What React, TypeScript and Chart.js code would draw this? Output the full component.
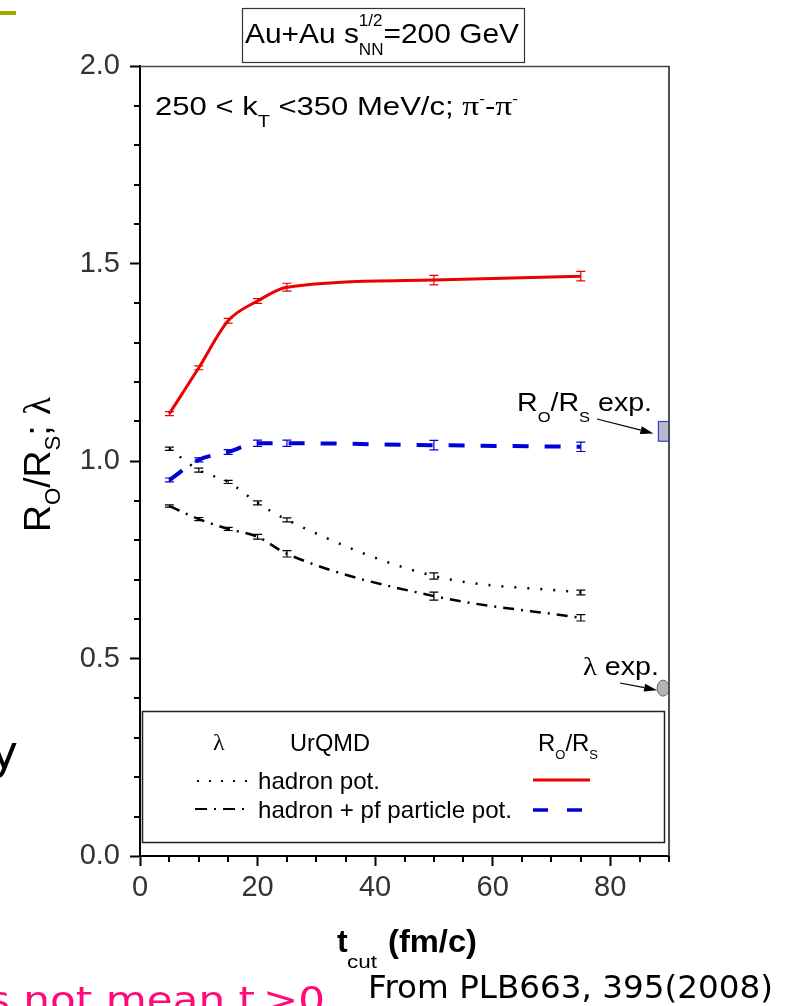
import React, { useEffect, useRef } from 'react';
import { Chart, registerables } from 'chart.js';

Chart.register(...registerables);

// ---------- data ----------
const T_CUT = [5, 10, 15, 20, 25, 50, 75];

const RATIO_HADRON = [1.12, 1.236, 1.355, 1.405, 1.44, 1.458, 1.468];
const RATIO_HADRON_ERR = [0.005, 0.005, 0.006, 0.006, 0.01, 0.012, 0.012];

const RATIO_PF = [0.952, 1.003, 1.023, 1.045, 1.045, 1.04, 1.036];
const RATIO_PF_ERR = [0.005, 0.005, 0.006, 0.008, 0.008, 0.012, 0.012];

const LAMBDA_HADRON = [1.031, 0.977, 0.947, 0.894, 0.851, 0.709, 0.667];
const LAMBDA_HADRON_ERR = [0.004, 0.005, 0.004, 0.005, 0.005, 0.008, 0.006];

const LAMBDA_PF = [0.886, 0.853, 0.828, 0.808, 0.765, 0.658, 0.603];
const LAMBDA_PF_ERR = [0.003, 0.004, 0.004, 0.006, 0.008, 0.01, 0.008];

const RS_EXP_Y = [1.05, 1.1];
const RS_EXP_X = [88.2, 90];
const LAMBDA_EXP_Y = 0.425;
const LAMBDA_EXP_X = 89;

const X_TICKS = [0, 20, 40, 60, 80];
const Y_TICKS = [0, 0.5, 1.0, 1.5, 2.0];

const SANS = '"Liberation Sans", Arial, sans-serif';
const SERIF = '"Liberation Serif", "Times New Roman", serif';
const DEJA = '"DejaVu Sans", Verdana, sans-serif';

const RED = 'rgb(236,0,0)';
const BLUE = 'rgb(0,0,215)';

type Seg = { t: string; f: string; dy?: number; stay?: boolean };

function layoutSegs(ctx: CanvasRenderingContext2D, segs: Seg[]) {
  let cur = 0;
  let hold = 0;
  const pos: number[] = [];
  for (const s of segs) {
    ctx.font = s.f;
    const w = ctx.measureText(s.t).width;
    pos.push(cur);
    if (s.stay) hold = Math.max(hold, w);
    else {
      cur += Math.max(hold, w);
      hold = 0;
    }
  }
  return { pos, total: cur + hold };
}

function drawRich(
  ctx: CanvasRenderingContext2D,
  segs: Seg[],
  x: number,
  y: number,
  targetW?: number,
  color = '#000'
) {
  ctx.save();
  const { pos, total } = layoutSegs(ctx, segs);
  const sx = targetW ? targetW / total : 1;
  ctx.translate(x, y);
  ctx.scale(sx, 1);
  ctx.fillStyle = color;
  ctx.textBaseline = 'alphabetic';
  ctx.textAlign = 'left';
  segs.forEach((s, i) => {
    ctx.font = s.f;
    ctx.fillText(s.t, pos[i], s.dy || 0);
  });
  ctx.restore();
}

function arrow(ctx: CanvasRenderingContext2D, x1: number, y1: number, x2: number, y2: number) {
  const a = Math.atan2(y2 - y1, x2 - x1);
  const hl = 13;
  const hw = 4;
  ctx.save();
  ctx.strokeStyle = '#000';
  ctx.fillStyle = '#000';
  ctx.lineWidth = 1.2;
  ctx.beginPath();
  ctx.moveTo(x1, y1);
  ctx.lineTo(x2 - hl * Math.cos(a), y2 - hl * Math.sin(a));
  ctx.stroke();
  ctx.beginPath();
  ctx.moveTo(x2, y2);
  ctx.lineTo(x2 - hl * Math.cos(a) + hw * Math.sin(a), y2 - hl * Math.sin(a) - hw * Math.cos(a));
  ctx.lineTo(x2 - hl * Math.cos(a) - hw * Math.sin(a), y2 - hl * Math.sin(a) + hw * Math.cos(a));
  ctx.closePath();
  ctx.fill();
  ctx.restore();
}

const ERRORS = [RATIO_HADRON_ERR, RATIO_PF_ERR, LAMBDA_HADRON_ERR, LAMBDA_PF_ERR];

const customPlugin = {
  id: 'customDraw',
  afterDatasetsDraw(chart: any) {
    const ctx: CanvasRenderingContext2D = chart.ctx;
    const xs = chart.scales.x;
    const ys = chart.scales.y;
    chart.data.datasets.forEach((ds: any, di: number) => {
      const errs = ERRORS[di];
      ctx.save();
      ctx.strokeStyle = ds.borderColor;
      ctx.lineWidth = 1.2;
      ctx.setLineDash([]);
      ds.data.forEach((p: any, i: number) => {
        const px = xs.getPixelForValue(p.x);
        const y1 = ys.getPixelForValue(p.y - errs[i]);
        const y2 = ys.getPixelForValue(p.y + errs[i]);
        ctx.beginPath();
        ctx.moveTo(px, y1);
        ctx.lineTo(px, y2);
        ctx.moveTo(px - 4.5, y1);
        ctx.lineTo(px + 4.5, y1);
        ctx.moveTo(px - 4.5, y2);
        ctx.lineTo(px + 4.5, y2);
        ctx.stroke();
      });
      ctx.restore();
    });
  },
  afterDraw(chart: any) {
    const ctx: CanvasRenderingContext2D = chart.ctx;
    const xs = chart.scales.x;
    const ys = chart.scales.y;
    const ca = chart.chartArea;
    ctx.save();

    // frame top/right
    ctx.strokeStyle = '#444';
    ctx.lineWidth = 1.5;
    ctx.beginPath();
    ctx.moveTo(ca.left, ca.top + 0.5);
    ctx.lineTo(ca.right, ca.top + 0.5);
    ctx.lineTo(ca.right, ca.bottom);
    ctx.stroke();

    // minor ticks
    ctx.strokeStyle = '#000';
    ctx.lineWidth = 2;
    for (let k = 1; k < 20; k++) {
      if (k % 5 === 0) continue;
      const py = Math.round(ys.getPixelForValue(k / 10));
      ctx.beginPath();
      ctx.moveTo(ca.left, py);
      ctx.lineTo(ca.left - 6, py);
      ctx.stroke();
    }
    for (let k = 1; k <= 18; k++) {
      if (k % 4 === 0) continue;
      const px = Math.round(xs.getPixelForValue(k * 5));
      ctx.beginPath();
      ctx.moveTo(px, ca.bottom);
      ctx.lineTo(px, ca.bottom + 6);
      ctx.stroke();
    }

    // legend box
    ctx.fillStyle = '#fff';
    ctx.fillRect(142, 711, 523, 132);
    ctx.strokeStyle = '#222';
    ctx.lineWidth = 1.5;
    ctx.strokeRect(142.5, 711.5, 522, 131);

    drawRich(ctx, [{ t: 'λ', f: `24px ${SERIF}` }], 213, 750);
    drawRich(ctx, [{ t: 'UrQMD', f: `24px ${SANS}` }], 290, 751, 80);
    drawRich(
      ctx,
      [
        { t: 'R', f: `24px ${SANS}` },
        { t: 'O', f: `13px ${SANS}`, dy: 8 },
        { t: '/R', f: `24px ${SANS}` },
        { t: 'S', f: `13px ${SANS}`, dy: 8 },
      ],
      538,
      751,
      60
    );
    drawRich(ctx, [{ t: 'hadron pot.', f: `500 24px ${SANS}` }], 258, 789, 122);
    drawRich(ctx, [{ t: 'hadron + pf particle pot.', f: `500 24px ${SANS}` }], 258, 818, 254);

    // legend samples
    ctx.lineWidth = 2;
    ctx.strokeStyle = '#000';
    ctx.setLineDash([2, 10]);
    ctx.beginPath();
    ctx.moveTo(197, 781);
    ctx.lineTo(256, 781);
    ctx.stroke();
    ctx.setLineDash([12, 7, 2, 7]);
    ctx.beginPath();
    ctx.moveTo(195, 809);
    ctx.lineTo(250, 809);
    ctx.stroke();
    ctx.setLineDash([]);
    ctx.strokeStyle = RED;
    ctx.lineWidth = 3;
    ctx.beginPath();
    ctx.moveTo(533, 780);
    ctx.lineTo(590, 780);
    ctx.stroke();
    ctx.strokeStyle = BLUE;
    ctx.lineWidth = 3.5;
    ctx.setLineDash([15, 19]);
    ctx.beginPath();
    ctx.moveTo(533, 810);
    ctx.lineTo(583, 810);
    ctx.stroke();
    ctx.setLineDash([]);

    // experimental markers
    const bx1 = xs.getPixelForValue(RS_EXP_X[0]);
    const bx2 = xs.getPixelForValue(RS_EXP_X[1]);
    const by1 = ys.getPixelForValue(RS_EXP_Y[1]);
    const by2 = ys.getPixelForValue(RS_EXP_Y[0]);
    ctx.fillStyle = '#b9b9cc';
    ctx.fillRect(bx1, by1, bx2 - bx1, by2 - by1);
    ctx.strokeStyle = '#3a3ad0';
    ctx.lineWidth = 1.2;
    ctx.strokeRect(bx1, by1, bx2 - bx1, by2 - by1);
    arrow(ctx, 597, 419, bx1 - 5, (by1 + by2) / 2 + 2);
    drawRich(
      ctx,
      [
        { t: 'R', f: `26px ${SANS}` },
        { t: 'O', f: `15px ${SANS}`, dy: 11 },
        { t: '/R', f: `26px ${SANS}` },
        { t: 'S', f: `15px ${SANS}`, dy: 11 },
        { t: ' exp.', f: `26px ${SANS}` },
      ],
      517,
      411,
      135
    );

    const cx = xs.getPixelForValue(LAMBDA_EXP_X);
    const cy = ys.getPixelForValue(LAMBDA_EXP_Y);
    ctx.beginPath();
    ctx.ellipse(cx, cy, 6, 8, 0, 0, Math.PI * 2);
    ctx.fillStyle = '#b4b4b4';
    ctx.fill();
    ctx.strokeStyle = '#666';
    ctx.lineWidth = 1;
    ctx.stroke();
    arrow(ctx, 620, 683, cx - 6, cy + 2);
    drawRich(
      ctx,
      [
        { t: 'λ', f: `26px ${SERIF}` },
        { t: ' exp.', f: `26px ${SANS}` },
      ],
      583,
      675,
      76
    );

    // redraw right frame over the markers
    ctx.strokeStyle = '#444';
    ctx.lineWidth = 1.5;
    ctx.beginPath();
    ctx.moveTo(ca.right, ca.top);
    ctx.lineTo(ca.right, ca.bottom);
    ctx.stroke();

    // title box
    ctx.strokeStyle = '#333';
    ctx.lineWidth = 1.2;
    ctx.strokeRect(242.5, 8.5, 282, 54);
    drawRich(
      ctx,
      [
        { t: 'Au+Au s', f: `28px ${SANS}` },
        { t: '1/2', f: `16px ${SANS}`, dy: -17, stay: true },
        { t: 'NN', f: `16px ${SANS}`, dy: 12 },
        { t: '=200 GeV', f: `28px ${SANS}` },
      ],
      245,
      43,
      274
    );

    // inner text
    drawRich(
      ctx,
      [
        { t: '250 < k', f: `25px ${SANS}` },
        { t: 'T', f: `16px ${SANS}`, dy: 12 },
        { t: ' <350 MeV/c; ', f: `25px ${SANS}` },
        { t: 'π', f: `27px ${SERIF}` },
        { t: '-', f: `14px ${SANS}`, dy: -11 },
        { t: '-', f: `25px ${SANS}` },
        { t: 'π', f: `27px ${SERIF}` },
        { t: '-', f: `14px ${SANS}`, dy: -11 },
      ],
      155,
      115,
      363
    );

    // y axis title
    ctx.save();
    ctx.translate(50, 532);
    ctx.rotate(-Math.PI / 2);
    drawRich(
      ctx,
      [
        { t: 'R', f: `37px ${SANS}` },
        { t: 'O', f: `22px ${SANS}`, dy: 10 },
        { t: '/R', f: `37px ${SANS}` },
        { t: 'S', f: `22px ${SANS}`, dy: 10 },
        { t: '; ', f: `37px ${SANS}` },
        { t: 'λ', f: `37px ${SERIF}` },
      ],
      0,
      0,
      135
    );
    ctx.restore();

    // x axis title
    drawRich(ctx, [{ t: 't', f: `bold 32px ${SANS}` }], 337, 952);
    drawRich(ctx, [{ t: 'cut', f: `19px ${SANS}` }], 347, 968, 30);
    drawRich(ctx, [{ t: '(fm/c)', f: `bold 32px ${SANS}` }], 388, 952, 89);

    // slide fragments
    ctx.fillStyle = '#a5a500';
    ctx.fillRect(0, 11, 16, 4);
    ctx.font = `46px ${DEJA}`;
    const yw = ctx.measureText('y').width;
    ctx.fillStyle = '#000';
    ctx.fillText('y', 18 - yw, 768);
    drawRich(ctx, [{ t: 'From PLB663, 395(2008)', f: `32px ${DEJA}` }], 368, 998, 405);
    drawRich(ctx, [{ t: 's not mean t', f: `36px ${DEJA}` }], -12, 1012, 267, '#ff0a78');
    drawRich(ctx, [{ t: '>0', f: `36px ${DEJA}` }], 263, 1012, 62, '#ff0a78');

    ctx.restore();
  },
};

export default function App() {
  const ref = useRef<HTMLCanvasElement>(null);
  useEffect(() => {
    const canvas = ref.current;
    if (!canvas) return;
    const pts = (ys: number[]) => T_CUT.map((x, i) => ({ x, y: ys[i] }));
    const common = {
      pointRadius: 0,
      fill: false,
      cubicInterpolationMode: 'monotone' as const,
    };
    const chart = new Chart(canvas, {
      type: 'line',
      data: {
        datasets: [
          { label: 'Ro/Rs hadron pot.', data: pts(RATIO_HADRON), borderColor: RED, borderWidth: 3, ...common },
          {
            label: 'Ro/Rs hadron + pf particle pot.',
            data: pts(RATIO_PF),
            borderColor: BLUE,
            borderWidth: 4,
            borderDash: [16, 16],
            ...common,
          },
          {
            label: 'λ hadron pot.',
            data: pts(LAMBDA_HADRON),
            borderColor: '#000',
            borderWidth: 2.5,
            borderDash: [2, 11],
            ...common,
          },
          {
            label: 'λ hadron + pf particle pot.',
            data: pts(LAMBDA_PF),
            borderColor: '#000',
            borderWidth: 2.5,
            borderDash: [11, 7, 2, 7],
            ...common,
          },
        ],
      },
      options: {
        animation: false,
        responsive: false,
        maintainAspectRatio: false,
        layout: { padding: { top: 66, right: 125, left: 0, bottom: 0 } },
        plugins: { legend: { display: false }, tooltip: { enabled: false } },
        scales: {
          x: {
            type: 'linear',
            min: 0,
            max: 90,
            afterBuildTicks: (s: any) => {
              s.ticks = X_TICKS.map((v) => ({ value: v }));
            },
            afterFit: (s: any) => {
              s.height = 150;
            },
            ticks: {
              font: { family: SANS, size: 29 },
              color: '#333',
              padding: 5,
              maxRotation: 0,
              autoSkip: false,
              callback: (v: any) => String(v),
            },
            grid: { drawOnChartArea: false, tickLength: 10, tickWidth: 2, tickColor: '#000' },
            border: { color: '#000', width: 2 },
          },
          y: {
            type: 'linear',
            min: 0,
            max: 2,
            afterBuildTicks: (s: any) => {
              s.ticks = Y_TICKS.map((v) => ({ value: v }));
            },
            afterFit: (s: any) => {
              s.width = 140;
            },
            ticks: {
              font: { family: SANS, size: 29 },
              color: '#333',
              padding: 10,
              autoSkip: false,
              callback: (v: any) => Number(v).toFixed(1),
            },
            grid: { drawOnChartArea: false, tickLength: 10, tickWidth: 2, tickColor: '#000' },
            border: { color: '#000', width: 2 },
          },
        },
      },
      plugins: [customPlugin],
    } as any);
    return () => chart.destroy();
  }, []);
  return (
    <div style={{ position: 'fixed', left: 0, top: 0, width: 794, height: 1006, background: '#fff' }}>
      <canvas ref={ref} width={794} height={1006} style={{ display: 'block', width: 794, height: 1006 }} />
    </div>
  );
}
